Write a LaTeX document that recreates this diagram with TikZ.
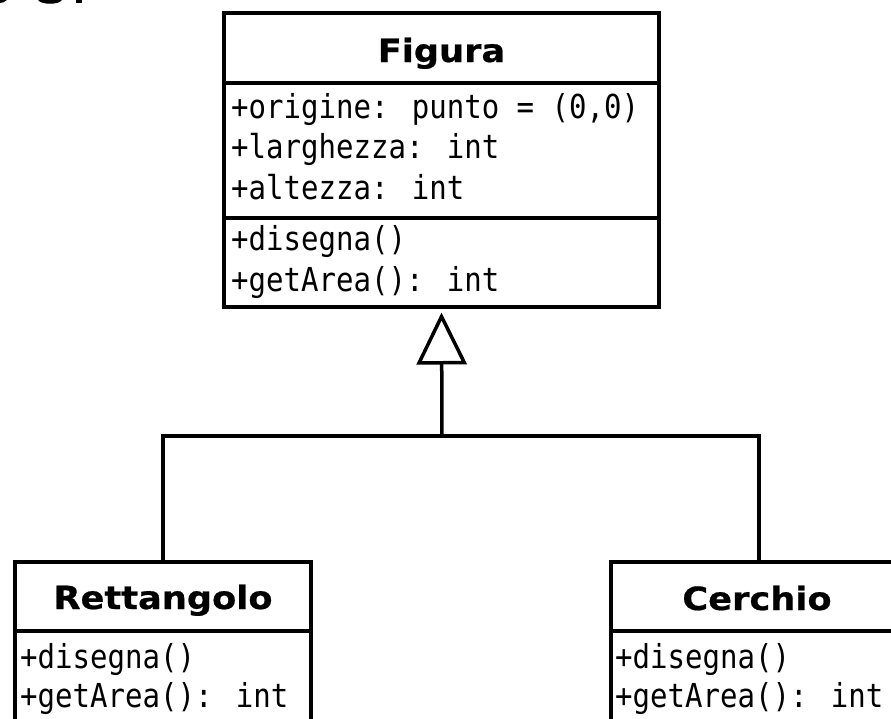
\documentclass[tikz,border=0pt]{standalone}
\usepackage{fontspec}
\usetikzlibrary{arrows.meta}
% class names: bold sans; members: condensed monospace
\newfontfamily\headfont[FakeStretch=1.1,FakeBold=0.6]{DejaVu Sans}
\newfontfamily\memberfont[FakeStretch=0.88]{DejaVu Sans Mono}
\begin{document}
\begin{tikzpicture}[x=1pt,y=-1pt,
  compartment/.style={draw=black, line width=4pt, fill=white, inner sep=0pt},
  classname/.style={anchor=base, inner sep=0pt, font=\headfont\bfseries\fontsize{32pt}{38pt}\selectfont},
  member/.style={anchor=base west, inner sep=0pt, font=\memberfont\fontsize{33pt}{41pt}\selectfont},
  conn/.style={draw=black, line width=3.5pt},
  inherit/.style={-{Triangle[open, length=52pt, width=50pt, line join=miter]}}]
\useasboundingbox (0,0) rectangle (891,718);
\fill[white] (0,0) rectangle (891,718);
\begin{scope}
\clip (0,0) rectangle (891,718);

% lower edge of a line of text above the drawing
\fill (0,0) -- (7,0) .. controls (5,2) and (2,3) .. (0,3) -- cycle;
\fill (38,0) .. controls (41,5) and (59,5) .. (62,0) -- cycle;
\fill (76,0) rectangle (82,3);

% class Figura
\node[compartment, minimum width=435pt, minimum height=70pt] (fighead) at (441.5,47.5) {};
\node[compartment, minimum width=435pt, minimum height=135pt] (figattr) at (441.5,150) {};
\node[compartment, minimum width=435pt, minimum height=89pt] (figmeth) at (441.5,262) {};
\node[classname] (figname) at (441.5,62) {Figura};
\node[member] (figa1) at (231,118) {+origine: punto = (0,0)};
\node[member] (figa2) at (231,158) {+larghezza: int};
\node[member] (figa3) at (231,199) {+altezza: int};
\node[member] (figm1) at (231,250) {+disegna()};
\node[member] (figm2) at (231,291) {+getArea(): int};

% class Rettangolo
\node[compartment, minimum width=295.4pt, minimum height=69pt] (rethead) at (163,596) {};
\node[compartment, minimum width=295.4pt, minimum height=130pt] (retmeth) at (163,695.5) {};
\node[classname] (retname) at (163,609) {Rettangolo};
\node[member] (retm1) at (20,668) {+disegna()};
\node[member] (retm2) at (20,707) {+getArea(): int};

% class Cerchio
\node[compartment, minimum width=295.5pt, minimum height=69pt] (cerhead) at (759,596) {};
\node[compartment, minimum width=295.5pt, minimum height=130pt] (cermeth) at (759,695.5) {};
\node[classname] (cername) at (757,610) {Cerchio};
\node[member] (cerm1) at (615,668) {+disegna()};
\node[member] (cerm2) at (615,707) {+getArea(): int};

% generalisation
\coordinate (join) at (442,436);
\draw[conn] (rethead.north) |- (join) -| (cerhead.north);
\draw[conn, inherit, shorten >=4pt] (join) -- (figmeth.south);
\end{scope}
\end{tikzpicture}
\end{document}
